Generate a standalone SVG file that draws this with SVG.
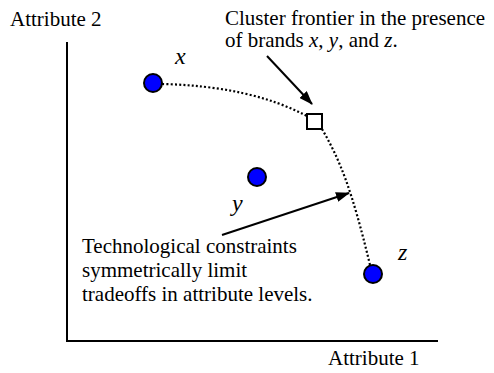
<svg xmlns="http://www.w3.org/2000/svg" width="494" height="373" viewBox="0 0 494 373">
  <style>
    text { font-family: "Liberation Serif", "Times New Roman", Times, serif; fill: #000; }
    .lbl { font-size: 21px; }
    .var { font-style: italic; font-size: 24px; }
    .it { font-style: italic; }
    .axis { stroke: #000; stroke-width: 2; fill: none; }
    .brand { fill: #0000ff; stroke: #000; stroke-width: 2; }
    .frontier { stroke: #000; stroke-width: 2.2; fill: none; stroke-dasharray: 2 2.2; }
    .pointer { stroke: #000; stroke-width: 2; fill: none; marker-end: url(#head); }
  </style>
  <defs>
    <marker id="head" viewBox="0 0 14 10" refX="13" refY="5" markerWidth="14" markerHeight="10" markerUnits="userSpaceOnUse" orient="auto">
      <path d="M0,0 L14,5 L0,10 Z" fill="#000"/>
    </marker>
  </defs>

  <!-- axes -->
  <g id="axes">
    <line class="axis" x1="67" y1="42" x2="67" y2="342"/>
    <line class="axis" x1="66" y1="341" x2="438" y2="341"/>
    <text class="lbl" x="10" y="26">Attribute 2</text>
    <text class="lbl" x="328" y="365">Attribute 1</text>
  </g>

  <!-- connectors: frontier and pointer arrows -->
  <g id="connectors">
    <path class="frontier" d="M162,84 Q250,86 307,116"/>
    <path class="frontier" d="M322,129 C340,160 352,190 370,265"/>
    <line class="pointer" x1="267" y1="56" x2="312" y2="104"/>
    <line class="pointer" x1="222" y1="235" x2="349" y2="193"/>
  </g>

  <g id="brand-x">
    <circle class="brand" cx="153" cy="83" r="9"/>
    <text class="var" x="175" y="64">x</text>
  </g>
  <g id="brand-y">
    <circle class="brand" cx="257" cy="177" r="9"/>
    <text class="var" x="232" y="211">y</text>
  </g>
  <g id="brand-z">
    <circle class="brand" cx="373" cy="274" r="9"/>
    <text class="var" x="398" y="260">z</text>
  </g>

  <g id="frontier-point">
    <rect x="307" y="114" width="15" height="15" fill="#fff" stroke="#000" stroke-width="2"/>
  </g>

  <g id="note-frontier">
    <text class="lbl" x="225" y="25" font-size="21.4">Cluster frontier in the presence</text>
    <text class="lbl" x="225" y="47" font-size="21.4">of brands <tspan class="it">x</tspan>, <tspan class="it">y</tspan>, and <tspan class="it">z</tspan>.</text>
  </g>

  <g id="note-constraints">
    <text class="lbl" x="82" y="253">Technological constraints</text>
    <text class="lbl" x="82" y="277">symmetrically limit</text>
    <text class="lbl" x="82" y="301">tradeoffs in attribute levels.</text>
  </g>
</svg>
